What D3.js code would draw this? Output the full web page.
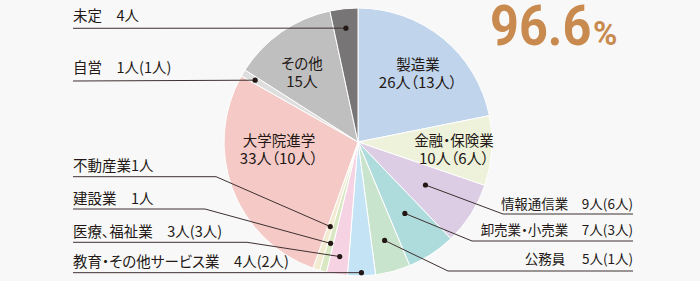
<!DOCTYPE html>
<html><head><meta charset="utf-8">
<script src="https://cdn.jsdelivr.net/npm/d3@7"></script>
<style>
html,body{margin:0;padding:0;background:#f8f8f8;}
svg{display:block;}
text{font-family:"Noto Sans CJK JP","Noto Sans",sans-serif;fill:#231815;}
.palt{font-feature-settings:"palt" 1;}
</style></head>
<body><svg id="c" width="700" height="281"></svg>
<script>
// ---- data ----
const categories = ["製造業","金融・保険業","情報通信業","卸売業・小売業","公務員","教育・その他サービス業","医療、福祉業","建設業","不動産業","大学院進学","自営","その他","未定"];
const values     = [26,10,9,7,5,4,3,1,1,33,1,15,4];
const subValues  = [13,6,6,3,1,2,3,null,null,10,1,null,null];
const colors     = ["#c0d4eb","#eef2da","#dccde4","#aedcdc","#c9e4cd","#c4e4f5","#f5d3e2","#d9e8c2","#f2ebd2","#f5cac6","#dedede","#bfbfbf","#777575"];
const rateText = "96.6";
const rateUnit = "%";

// ---- layout ----
const cx = 358, cy = 142, R = 134;
const svg = d3.select("#c");
const g = svg.append("g").attr("transform",`translate(${cx},${cy})`);
const data = categories.map((c,i)=>({name:c,value:values[i],sub:subValues[i],color:colors[i],i}));
const pie = d3.pie().value(d=>d.value).sort(null);
const arcs = pie(data);
const arc = d3.arc().innerRadius(0).outerRadius(R);

g.selectAll("path.s").data(arcs).enter().append("path")
  .attr("d",arc).attr("fill",d=>d.data.color)
  .attr("stroke","#ffffff").attr("stroke-width",1);

function valFull(d){ return d.value+"人"+(d.sub!=null?"（"+d.sub+"人）":""); }
function valHalf(d){ return d.value+"人"+(d.sub!=null?"("+d.sub+"人)":""); }

// inside labels: [index, dx, dy] relative to center
const inside = [[0,60,-72.5],[1,96,3.5],[9,-79,3.5],[11,-56,-73.5]];
inside.forEach(([i,x,y])=>{
  const d=data[i];
  g.append("text").attr("class","palt").attr("text-anchor","middle").attr("font-size",14.5)
   .attr("x",x).attr("y",y).text(d.name);
  g.append("text").attr("class","palt").attr("text-anchor","middle").attr("font-size",15)
   .attr("x",x).attr("y",y+18).text(valFull(d));
});

// outside labels with leader lines
// [index, dotRadius, side, lineY, bendX, textBaselineY, gap]
const outside = [
  [12,114.5,"L",28.3,null,21,"　"],
  [10,120,"L",81,null,73,"　"],
  [8,89,"L",176.7,216,171,""],
  [7,105,"L",209,205,204,"　"],
  [6,116,"L",242.3,247,237,"　"],
  [5,130.7,"L",272.7,null,267,"　"],
  [2,80,"R",214,503,209,"　"],
  [3,85.4,"R",241,472,235,"　"],
  [4,102,"R",271,448,264,"　 "]
];
const leftX = 73, rightX = 633;
outside.forEach(([i,r,side,ly,bx,ty,gap])=>{
  const a = arcs[i], d = data[i];
  const [px,py] = d3.arc().innerRadius(r).outerRadius(r).centroid(a);
  const dx = cx+px, dy = cy+py;
  let pts;
  if(side==="L"){
    pts = bx==null ? [[leftX,ly],[dx,dy]] : [[leftX,ly],[bx,ly],[dx,dy]];
  } else {
    pts = [[dx,dy],[bx,ly],[rightX,ly]];
  }
  svg.append("path").attr("d",d3.line()(pts)).attr("fill","none")
     .attr("stroke","#3e3030").attr("stroke-width",1);
  svg.append("circle").attr("cx",dx).attr("cy",dy).attr("r",2.6).attr("fill","#231815");
  svg.append("text").attr("class","palt").attr("x",side==="L"?leftX:rightX).attr("y",ty)
     .attr("text-anchor",side==="L"?"start":"end").attr("font-size",side==="L"?14.5:13.5)
     .attr("xml:space","preserve").text(d.name+gap+valHalf(d));
});

// big rate
svg.append("text").attr("transform","translate(490,45) scale(0.9,1)")
  .attr("font-size",56).attr("font-weight","bold")
  .style("fill","#c98a4f").style("font-family","Roboto, 'Liberation Sans', sans-serif")
  .text(rateText);
svg.append("text").attr("x",593).attr("y",45)
  .attr("font-size",33).attr("font-weight","bold")
  .style("fill","#c98a4f").style("font-family","Roboto, 'Liberation Sans', sans-serif")
  .text(rateUnit);
</script></body></html>
